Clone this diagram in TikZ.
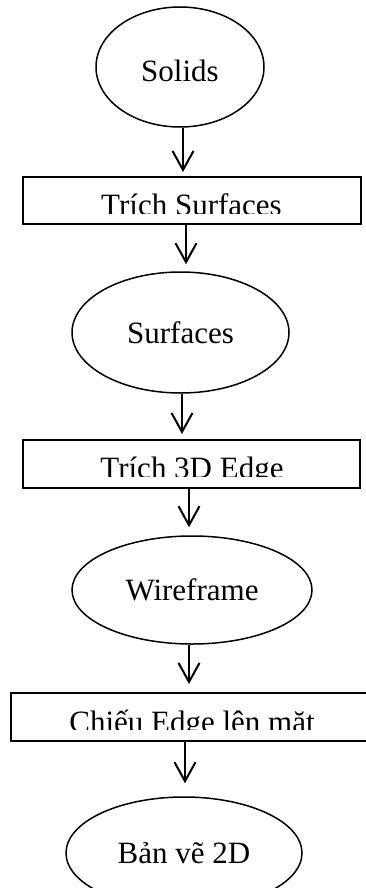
\documentclass[tikz,border=0pt]{standalone}
\usepackage{fontspec}
\setmainfont{Liberation Serif}
\usetikzlibrary{shapes.geometric,arrows.meta}
\begin{document}
\begin{tikzpicture}[x=1pt,y=-1pt,
  oval/.style={ellipse,draw,line width=1.5pt,inner sep=0pt,text height=21pt,text depth=0pt,font=\fontsize{31}{31}\selectfont},
  stepbox/.style={rectangle,draw,line width=2pt,inner sep=0pt},
  boxtext/.style={anchor=base,inner sep=0pt,font=\fontsize{31}{31}\selectfont},
  arr/.style={line width=2pt,-{Straight Barb[length=19pt,width=21pt,line width=2pt]}}]
\useasboundingbox (0,0) rectangle (366,888);
\begin{scope}
\clip (0,0) rectangle (366,888);
% ellipses
\node[oval,minimum width=168pt,minimum height=120pt,text height=29pt] (solids) at (180,67) {Solids};
\node[oval,minimum width=217pt,minimum height=121pt] (surf) at (180.5,332.5) {Surfaces};
\node[oval,minimum width=240pt,minimum height=108pt] (wire) at (192,590) {Wireframe};
\node[oval,minimum width=236pt,minimum height=112pt] (ban) at (184,853) {Bản vẽ 2D};
% boxes
\node[stepbox,minimum width=338pt,minimum height=47pt] (b1) at (192,200.5) {};
\node[stepbox,minimum width=337pt,minimum height=48pt] (b2) at (191.5,464) {};
\node[stepbox,minimum width=361pt,minimum height=48pt] (b3) at (191.5,717) {};
\end{scope}
% clipped box texts
\begin{scope}
\clip (0,150) rectangle (366,213);
\node[boxtext] (t1) at (191.5,215.5) {Trích Surfaces};
\end{scope}
\begin{scope}
\clip (0,445) rectangle (366,476.5);
\node[boxtext] (t2) at (192,478.5) {Trích 3D Edge};
\end{scope}
\begin{scope}
\clip (0,698) rectangle (366,729);
\node[boxtext] (t3) at (192,732.5) {Chiếu Edge lên mặt};
\end{scope}
% arrows
\draw[arr] ([xshift=3pt]solids.south) -- ([xshift=-9pt,yshift=4pt]b1.north);
\draw[arr] ([xshift=-6pt]b1.south) -- ([xshift=5.5pt,yshift=7pt]surf.north);
\draw[arr] ([xshift=1.5pt]surf.south) -- ([xshift=-9.5pt,yshift=5pt]b2.north);
\draw[arr] ([xshift=-2.5pt]b2.south) -- ([xshift=-3pt,yshift=8pt]wire.north);
\draw[arr] ([xshift=-3pt]wire.south) -- ([xshift=-2.5pt,yshift=8pt]b3.north);
\draw[arr] ([xshift=-6.5pt]b3.south) -- ([xshift=1pt,yshift=13pt]ban.north);
\end{tikzpicture}
\end{document}
